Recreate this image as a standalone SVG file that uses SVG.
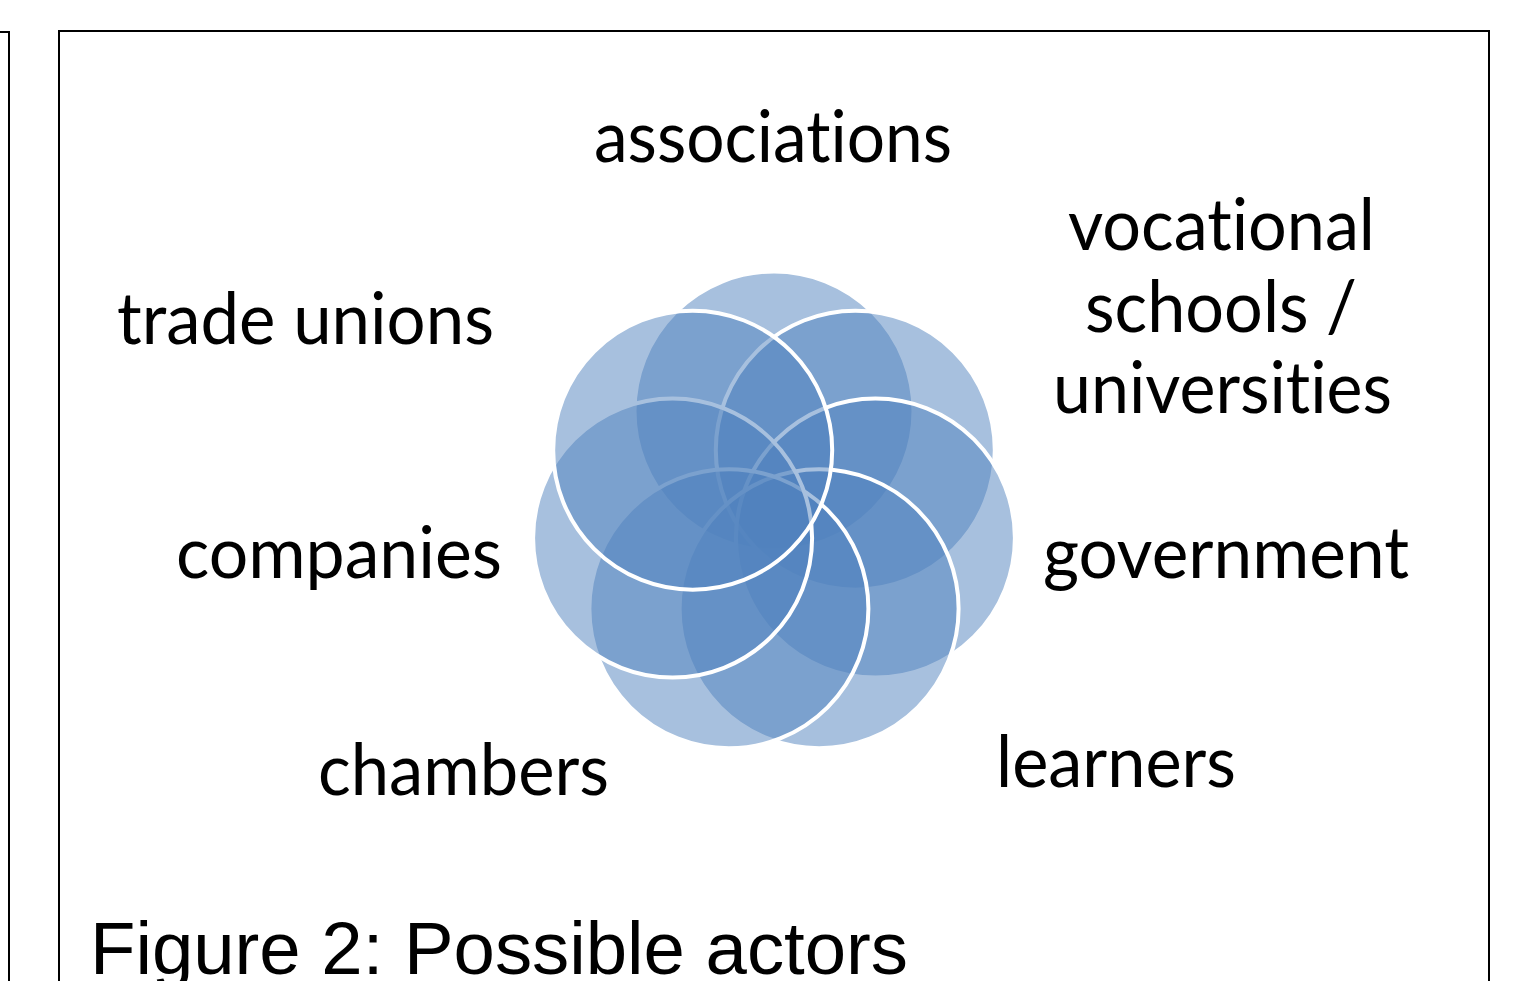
<svg xmlns="http://www.w3.org/2000/svg" width="1526" height="981" viewBox="0 0 1526 981">
<style>
.frame{fill:none;stroke:#000;stroke-width:2}
.c{fill:#4F81BD;fill-opacity:0.5;stroke:#fff;stroke-width:4}
.lbl{font-family:Lato,"Open Sans","DejaVu Sans",sans-serif;font-size:72px;fill:#000;font-variant-ligatures:none;font-feature-settings:"liga" 0,"clig" 0}
.cap{font-family:"Liberation Sans",Arial,sans-serif;font-size:74px;fill:#000}
</style>
<rect width="1526" height="981" fill="#fff"/>
<g id="frames">
<path class="frame" d="M0 32 H9 V981"/>
<path class="frame" d="M59 990 V31 H1489 V990"/>
</g>
<g id="venn">
<circle id="c-associations" class="c" cx="774" cy="411" r="139.5"/>
<circle id="c-vocational" class="c" cx="855.3" cy="450.2" r="139.5"/>
<circle id="c-government" class="c" cx="875.4" cy="538.1" r="139.5"/>
<circle id="c-learners" class="c" cx="819.1" cy="608.7" r="139.5"/>
<circle id="c-chambers" class="c" cx="728.9" cy="608.7" r="139.5"/>
<circle id="c-companies" class="c" cx="672.6" cy="538.1" r="139.5"/>
<circle id="c-tradeunions" class="c" cx="692.7" cy="450.2" r="139.5"/>
</g>
<g id="connectors"/>
<g id="n-associations"><text class="lbl" x="594" y="162" textLength="358" lengthAdjust="spacingAndGlyphs">associations</text></g>
<g id="n-vocational">
<text class="lbl" x="1068" y="250" textLength="307" lengthAdjust="spacingAndGlyphs">vocational</text>
<text class="lbl" x="1085" y="332" textLength="272" lengthAdjust="spacingAndGlyphs">schools /</text>
<text class="lbl" x="1053" y="413" textLength="339" lengthAdjust="spacingAndGlyphs">universities</text>
</g>
<g id="n-tradeunions"><text class="lbl" x="117" y="344" textLength="377" lengthAdjust="spacingAndGlyphs">trade unions</text></g>
<g id="n-companies"><text class="lbl" x="176" y="578" textLength="326" lengthAdjust="spacingAndGlyphs">companies</text></g>
<g id="n-government"><text class="lbl" x="1043" y="578" textLength="366" lengthAdjust="spacingAndGlyphs">government</text></g>
<g id="n-chambers"><text class="lbl" x="318" y="795" textLength="291" lengthAdjust="spacingAndGlyphs">chambers</text></g>
<g id="n-learners"><text class="lbl" x="996" y="787" textLength="240" lengthAdjust="spacingAndGlyphs">learners</text></g>
<g id="caption"><text class="cap" x="90" y="974" textLength="818" lengthAdjust="spacingAndGlyphs">Figure 2: Possible actors</text></g>
</svg>
